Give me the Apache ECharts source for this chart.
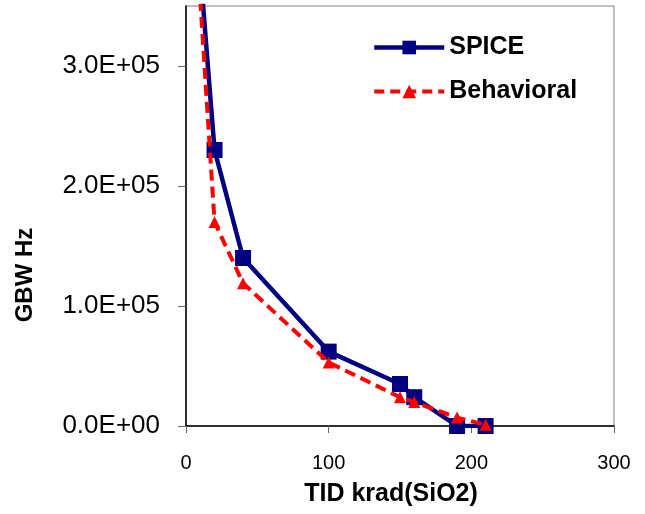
<!DOCTYPE html>
<html>
<head>
<meta charset="utf-8">
<script src="https://cdn.jsdelivr.net/npm/echarts@6/dist/echarts.min.js"></script>
<style>
    html, body { margin: 0; padding: 0; background: #fff; }
    #chart { width: 645px; height: 514px; }
</style>
</head>
<body>
<div id="chart"></div>
<script>
// TID 剂量 (krad)
var tidData = [10, 20, 40, 100, 150, 160, 190, 210]
// GBW 值
var spiceData = [380000, 230000, 140000, 62000, 35000, 24000, 0, 0]
var behavioralData = [355000, 170000, 119000, 53000, 24000, 20000, 7000, 1000]
// 坐标刻度
var xTicks = [0, 100, 200, 300]
var yTicks = [0, 100000, 200000, 300000]

var dom = document.getElementById("chart")
var myChart = echarts.init(dom)

function toPairs(xs, ys) {
    return xs.map((x, i) => [x, ys[i]])
}

// y 轴标签 3.0E+05 格式
function sciLabel(v) {
    if (v === 0) return '0.0E+00'
    var exp = Math.floor(Math.log10(Math.abs(v)))
    var mant = (v / Math.pow(10, exp)).toFixed(1)
    return mant + 'E+' + String(exp).padStart(2, '0')
}

var font = 'Liberation Sans, Arial, sans-serif'

myChart.setOption({
    animation: false,
    grid: {
        left: 186,
        right: 31,
        top: 6,
        bottom: 88,
        show: true,
        borderColor: '#808080',
        borderWidth: 1
    },
    legend: {
        orient: 'vertical',
        left: 372,
        top: 35,
        padding: 0,
        itemWidth: 70,
        itemHeight: 17,
        itemGap: 19,
        textStyle: {
            fontFamily: font,
            fontSize: 25,
            fontWeight: 'bold',
            color: '#000'
        },
        data: [
            { name: 'SPICE', lineStyle: { width: 4.5 } },
            { name: 'Behavioral', lineStyle: { width: 4, type: [10, 6] } }
        ]
    },
    xAxis: {
        type: 'value',
        min: 0,
        max: 300,
        interval: 100,
        name: 'TID krad(SiO2)',
        nameLocation: 'middle',
        nameGap: 56,
        nameTextStyle: {
            fontFamily: font,
            fontSize: 25,
            fontWeight: 'bold',
            color: '#000',
            padding: [0, 18, 0, 0]
        },
        axisLine: { lineStyle: { color: '#000', width: 1.5 } },
        axisTick: { show: true, length: 7, lineStyle: { color: '#666' } },
        axisLabel: {
            margin: 27,
            fontFamily: font,
            fontSize: 20,
            color: '#000',
            customValues: xTicks
        },
        splitLine: { show: false }
    },
    yAxis: {
        type: 'value',
        min: 0,
        max: 350000,
        interval: 100000,
        name: 'GBW Hz',
        nameLocation: 'middle',
        nameGap: 149,
        nameTextStyle: {
            fontFamily: font,
            fontSize: 24,
            fontWeight: 'bold',
            color: '#000',
            padding: [0, 118, 0, 0]
        },
        axisLine: { show: true, lineStyle: { color: '#000', width: 1.5 } },
        axisTick: { show: true, length: 8, lineStyle: { color: '#666' }, customValues: yTicks },
        axisLabel: {
            margin: 26,
            fontFamily: font,
            fontSize: 26,
            color: '#000',
            customValues: yTicks,
            formatter: sciLabel
        },
        splitLine: { show: false }
    },
    series: [
        {
            name: 'SPICE',
            type: 'line',
            data: toPairs(tidData, spiceData),
            symbol: 'rect',
            symbolSize: 16,
            color: '#000080',
            lineStyle: { color: '#000080', width: 4.5 },
            itemStyle: { color: '#000080' },
            z: 2
        },
        {
            name: 'Behavioral',
            type: 'line',
            data: toPairs(tidData, behavioralData),
            symbol: 'triangle',
            symbolSize: 12,
            color: '#ff0000',
            lineStyle: { color: '#ff0000', width: 4, type: [11, 6] },
            itemStyle: { color: '#ff0000' },
            z: 3
        }
    ]
})
</script>
</body>
</html>
